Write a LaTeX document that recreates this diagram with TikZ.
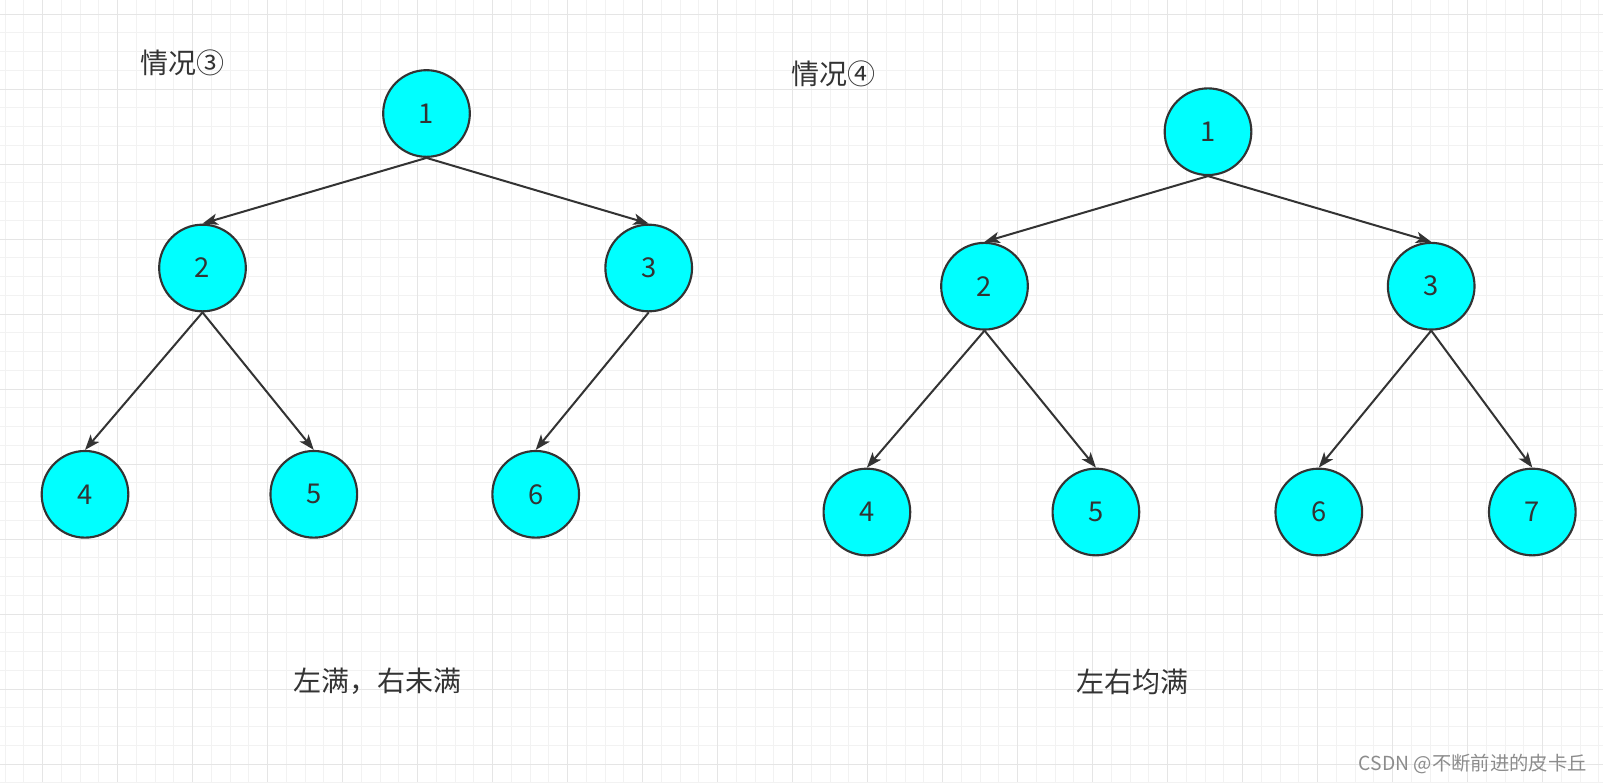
\documentclass[tikz,border=0pt]{standalone}
\usepackage{fontspec}
\setmainfont{Noto Sans CJK SC}
\usetikzlibrary{arrows.meta}
\definecolor{edgecol}{HTML}{333333}
\definecolor{nodefill}{HTML}{00FFFF}
\definecolor{minorgrid}{HTML}{F2F2F2}
\definecolor{majorgrid}{HTML}{E5E5E5}
\definecolor{wmcol}{HTML}{8C8C8C}
\tikzset{
  treenode/.style={circle, draw=edgecol, line width=1.6pt, fill=nodefill,
    minimum size=65pt, inner sep=0pt, text=edgecol,
    font=\fontsize{20.5}{24}\selectfont},
  treeedge/.style={-{Stealth[length=11.5pt,width=8.5pt,inset=3pt]},
    line width=1.5pt, draw=edgecol},
  label text/.style={text=edgecol, font=\fontsize{21}{25}\selectfont, inner sep=0pt},
  watermark/.style={text=wmcol, font=\fontsize{14.5}{17}\selectfont, inner sep=0pt}
}
\begin{document}
\begin{tikzpicture}[x=0.75pt,y=-0.75pt]
\useasboundingbox (0,0) rectangle (1603,782);
\fill[white] (0,0) rectangle (1603,782);
% grid
\foreach \i in {0,...,85} \draw[minorgrid, line width=0.75pt] (5.2+18.75*\i,0) -- (5.2+18.75*\i,782);
\foreach \j in {0,...,41} \draw[minorgrid, line width=0.75pt] (0,14+18.75*\j) -- (1603,14+18.75*\j);
\foreach \i in {0,...,21} \draw[majorgrid, line width=0.75pt] (42.7+75*\i,0) -- (42.7+75*\i,782);
\foreach \j in {0,...,10} \draw[majorgrid, line width=0.75pt] (0,14+75*\j) -- (1603,14+75*\j);

% left tree
\node[treenode] (a1) at (426.5,113.5) {1};
\node[treenode] (a2) at (202.5,268) {2};
\node[treenode] (a3) at (648.7,268) {3};
\node[treenode] (a4) at (85,494.3) {4};
\node[treenode] (a5) at (313.8,494.3) {5};
\node[treenode] (a6) at (535.7,494.3) {6};
\draw[treeedge] (a1.south) -- (a2.north);
\draw[treeedge] (a1.south) -- (a3.north);
\draw[treeedge] (a2.south) -- (a4.north);
\draw[treeedge] (a2.south) -- (a5.north);
\draw[treeedge] (a3.south) -- (a6.north);

% right tree
\node[treenode] (b1) at (1208,131.7) {1};
\node[treenode] (b2) at (984.5,286.2) {2};
\node[treenode] (b3) at (1431.2,286.2) {3};
\node[treenode] (b4) at (866.9,512) {4};
\node[treenode] (b5) at (1095.9,512) {5};
\node[treenode] (b6) at (1318.8,512) {6};
\node[treenode] (b7) at (1532.3,512) {7};
\draw[treeedge] (b1.south) -- (b2.north);
\draw[treeedge] (b1.south) -- (b3.north);
\draw[treeedge] (b2.south) -- (b4.north);
\draw[treeedge] (b2.south) -- (b5.north);
\draw[treeedge] (b3.south) -- (b6.north);
\draw[treeedge] (b3.south) -- (b7.north);

% labels
\node[label text] (t1) at (182.5,63) {情况③};
\node[label text] (t2) at (833,74) {情况④};
\node[label text] (t3) at (377.5,681) {左满，右未满};
\node[label text] (t4) at (1132.7,682) {左右均满};
\node[watermark, anchor=east] (wm) at (1587,764) {CSDN @不断前进的皮卡丘};
\end{tikzpicture}
\end{document}
